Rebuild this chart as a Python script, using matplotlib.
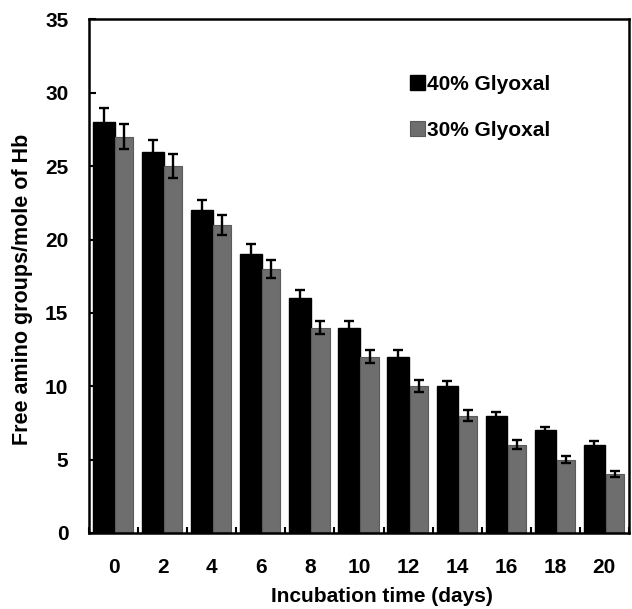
import matplotlib
matplotlib.use("Agg")
import matplotlib.pyplot as plt
import numpy as np

plt.rcParams['font.family'] = ['Liberation Sans', 'DejaVu Sans']

# incubation time (days) and free amino groups per mole of Hb
days = [0, 2, 4, 6, 8, 10, 12, 14, 16, 18, 20]
glyoxal_40 = [28, 26, 22, 19, 16, 14, 12, 10, 8, 7, 6]
glyoxal_40_err = [0.95, 0.8, 0.7, 0.7, 0.55, 0.45, 0.45, 0.35, 0.25, 0.25, 0.25]
glyoxal_30 = [27, 25, 21, 18, 14, 12, 10, 8, 6, 5, 4]
glyoxal_30_err = [0.85, 0.8, 0.7, 0.6, 0.45, 0.45, 0.4, 0.35, 0.3, 0.25, 0.2]

fig = plt.figure(figsize=(6.32, 6.09), dpi=100)
ax = fig.add_axes([0.141, 0.125, 0.854, 0.843])

x = np.arange(len(days))
err_style = dict(ecolor='black', elinewidth=1.7, capsize=3.5, capthick=1.7)

ax.bar(x - 0.42, glyoxal_40, width=0.44, align='edge', color='black',
       edgecolor='black', linewidth=1.0, label='40% Glyoxal', zorder=2)
ax.errorbar(x - 0.2, glyoxal_40, yerr=glyoxal_40_err, fmt='none', zorder=3, **err_style)

ax.bar(x + 0.03, glyoxal_30, width=0.37, align='edge', color='#6e6e6e',
       edgecolor='#5a5a5a', linewidth=0.8, label='30% Glyoxal', zorder=2)
ax.errorbar(x + 0.215, glyoxal_30, yerr=glyoxal_30_err, fmt='none', zorder=3, **err_style)

ax.set_xlim(-0.5, len(days) - 0.5)
ax.set_ylim(0, 35)
ax.set_yticks(np.arange(0, 36, 5))
ax.set_xticks(x)
ax.set_xticklabels([str(d) for d in days])
ax.set_xticks(np.arange(-0.5, len(days), 1.0), minor=True)

ax.tick_params(axis='y', direction='in', length=5, width=1.5, pad=15, labelsize=15)
ax.tick_params(axis='x', which='major', length=0, pad=18, labelsize=15)
ax.tick_params(axis='x', which='minor', direction='in', length=4, width=1.5)
for lbl in ax.get_xticklabels() + ax.get_yticklabels():
    lbl.set_fontweight('bold')

for s in ax.spines.values():
    s.set_linewidth(1.8)
    s.set_color('black')

ax.set_xlabel('Incubation time (days)', fontsize=15, fontweight='bold')
ax.set_ylabel('Free amino groups/mole of Hb', fontsize=15.5, fontweight='bold')
ax.xaxis.set_label_coords(0.543, -0.105)
ax.yaxis.set_label_coords(-0.104, 0.475)

ax.legend(loc='upper left', bbox_to_anchor=(0.58, 0.909), frameon=False,
          prop={'weight': 'bold', 'size': 15},
          handlelength=0.7, handleheight=0.7, handletextpad=0.1,
          labelspacing=1.3, borderaxespad=0)

fig.savefig('out.png', dpi=100)
